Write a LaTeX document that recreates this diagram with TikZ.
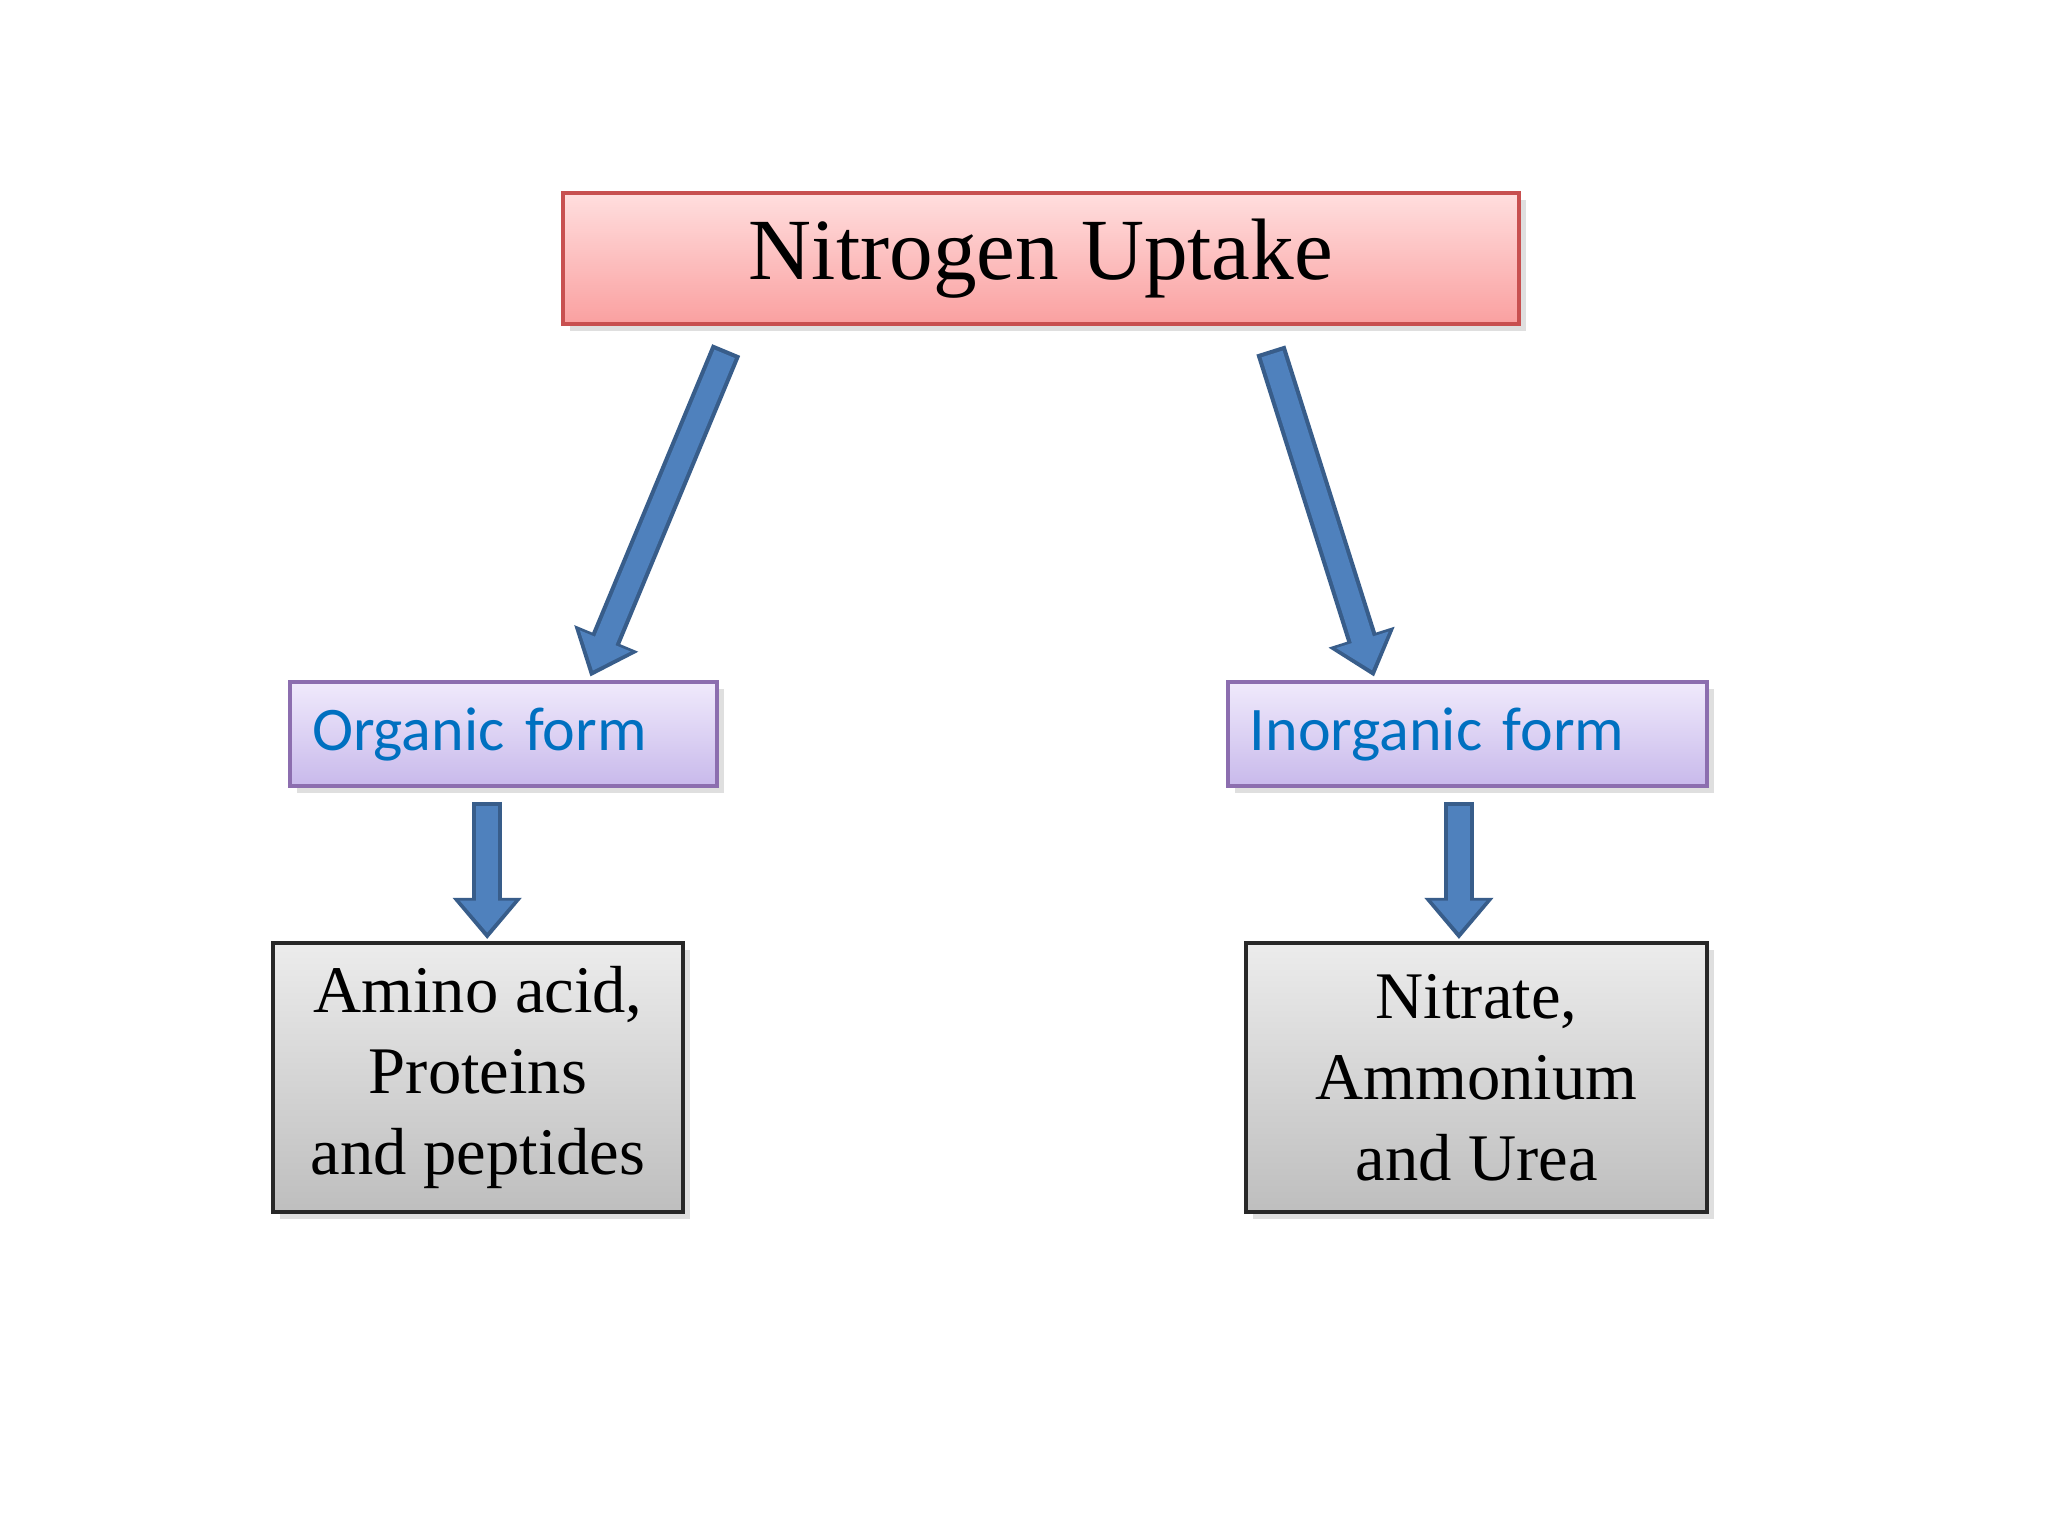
\documentclass[tikz,border=0pt]{standalone}
\usepackage{fontspec}
\setmainfont{Liberation Serif}
\newfontfamily\calib{Carlito}
\usetikzlibrary{arrows.meta,shadows}
\definecolor{arrblue}{RGB}{79,129,189}
\definecolor{arrborder}{RGB}{56,93,138}
\definecolor{formblue}{RGB}{0,112,192}
\begin{document}
\begin{tikzpicture}[x=0.01cm,y=-0.01cm,
  boxbase/.style={draw, line width=0.9pt, inner sep=0pt, align=center,
     drop shadow={shadow xshift=1.5pt, shadow yshift=-1.5pt, opacity=0.25}},
  titlebox/.style={boxbase, draw={rgb,255:red,200;green,80;blue,80},
     top color={rgb,255:red,255;green,222;blue,222}, bottom color={rgb,255:red,250;green,160;blue,160},
     minimum width=732\pgflinewidth*0+7.32cm, minimum height=1cm, font=\fontsize{19}{22}\selectfont},
  formbox/.style={boxbase, draw={rgb,255:red,140;green,110;blue,175},
     top color={rgb,255:red,240;green,234;blue,252}, bottom color={rgb,255:red,200;green,185;blue,235},
     minimum height=0.8cm, font=\calib\fontsize{13.5}{16}\selectfont, text=formblue},
  itembox/.style={boxbase, draw={rgb,255:red,40;green,40;blue,40},
     top color={rgb,255:red,236;green,236;blue,236}, bottom color={rgb,255:red,190;green,190;blue,190},
     minimum width=3.14cm, minimum height=2.06cm, font=\fontsize{14.5}{17.6}\selectfont},
  outerarr/.style={draw=arrborder, line width=6.6pt,
     -{Triangle[length=9pt 0 0, width=14.5pt 0 0]}},
  innerarr/.style={draw=arrblue, line width=4.8pt, shorten >=1.4pt, shorten <=0.9pt,
     -{Triangle[length=7pt 0 0, width=11.5pt 0 0]}}
]
\useasboundingbox[fill=white] (0,0) rectangle (1568,1176);
\node[titlebox, minimum width=7.32cm] (title) at (797,198) {Nitrogen Uptake};
\node[formbox, minimum width=3.27cm, text width=3.27cm, align=left] (org) at (385.5,562) {\hspace*{0.17cm}Organic form};
\node[formbox, minimum width=3.67cm, text width=3.67cm, align=left] (inorg) at (1123.5,562) {\hspace*{0.17cm}Inorganic form};
\node[itembox] (amino) at (366,825) {Amino acid,\\Proteins\\and peptides};
\node[itembox, minimum width=3.53cm] (nitr) at (1130.5,825) {Nitrate,\\Ammonium\\and Urea};

\coordinate (a1s) at (556,268); \coordinate (a1e) at (452,518);
\coordinate (a2s) at (973,268); \coordinate (a2e) at (1052,518);
\coordinate (a3s) at (373,614); \coordinate (a3e) at (373,719);
\coordinate (a4s) at (1117,614); \coordinate (a4e) at (1117,719);
\foreach \s/\e in {a1s/a1e,a2s/a2e,a3s/a3e,a4s/a4e}{
  \draw[outerarr] (\s) -- (\e);
  \draw[innerarr] (\s) -- (\e);
}
\end{tikzpicture}
\end{document}
